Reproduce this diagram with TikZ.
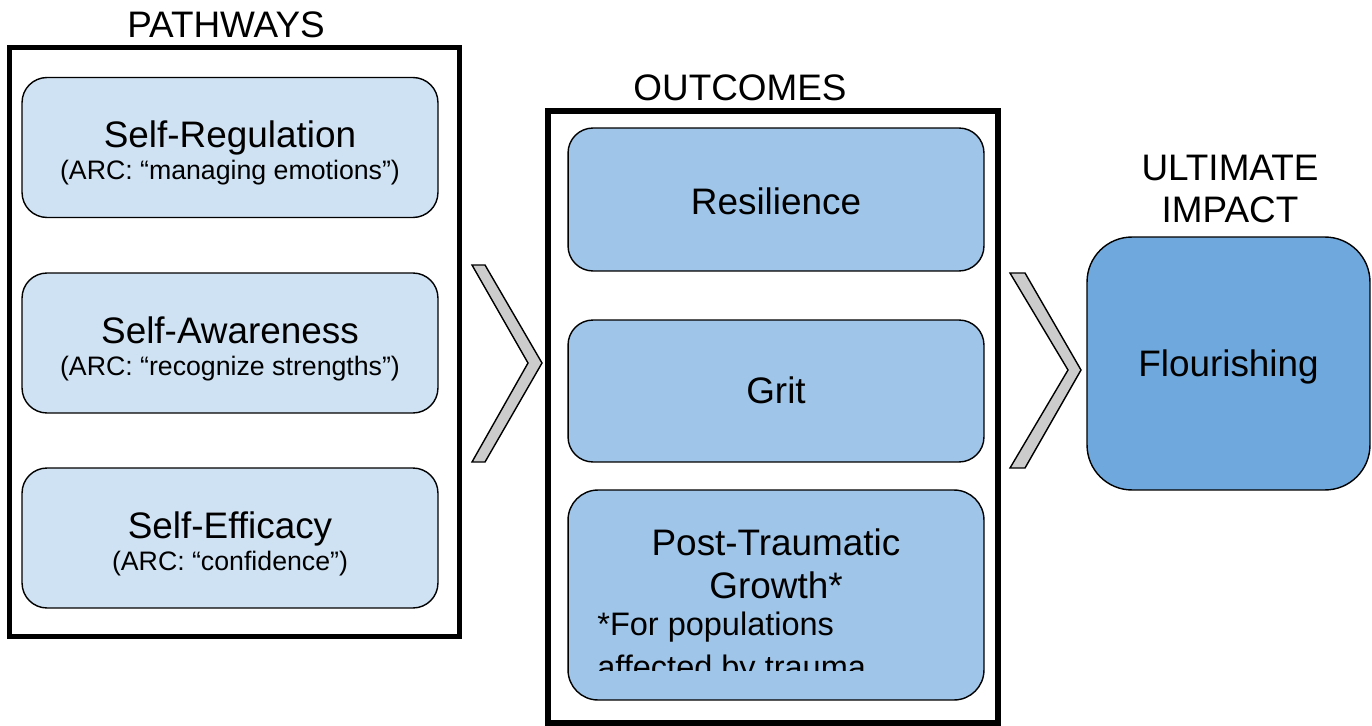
\documentclass[tikz,border=0pt]{standalone}
\usepackage{fontspec}
\setmainfont{Liberation Sans}
\usetikzlibrary{calc}
\definecolor{lightblueiii}{HTML}{CFE2F3}
\definecolor{lightblueii}{HTML}{9FC5E8}
\definecolor{lightbluei}{HTML}{6FA8DC}
\definecolor{chevgray}{HTML}{CCCCCC}

\begin{document}
\begin{tikzpicture}[x=0.02cm,y=-0.02cm,
    outerbox/.style={line width=3.2pt},
    roundbox/.style={draw, line width=0.8pt, inner sep=0pt, minimum width=8.32cm},
    big/.style={font=\fontsize{21}{24}\selectfont, inner sep=0pt, anchor=base},
    small/.style={font=\fontsize{15.2}{18}\selectfont, inner sep=0pt, anchor=base},
    note/.style={font=\fontsize{18.5}{22}\selectfont, inner sep=0pt, anchor=base west},
    chev/.style={draw, line width=0.8pt, fill=chevgray}]
  \useasboundingbox (0,0) rectangle (1372,726);

  % pathways
  \draw[outerbox] (9.5,47.5) rectangle (459.5,636.5);
  \node[big] (pathways) at (226,38) {PATHWAYS};
  \foreach \yc/\nm/\ttl/\sub in {147.5/selfreg/Self-Regulation/managing emotions,
                                 343/selfaware/Self-Awareness/recognize strengths,
                                 538/selfeff/Self-Efficacy/confidence}{
    \node[roundbox, fill=lightblueiii, rounded corners=0.5cm, minimum height=2.8cm] (\nm) at (230,\yc) {};
    \node[big] (\nm-t) at (\nm.center) {\ttl};
    \node[small] (\nm-s) at ($(\nm.center)+(0,32)$) {(ARC: “\sub”)};
  }

  \draw[chev] (472,265) -- (485,265) -- (542,363) -- (485,462) -- (472,462) -- (528,363) -- cycle;

  % outcomes
  \draw[outerbox] (548,111) rectangle (998,723);
  \node[big] (outcomes) at (740,101) {OUTCOMES};
  \node[roundbox, fill=lightblueii, rounded corners=0.5cm, minimum height=2.86cm] (resil) at (776,199.5) {};
  \node[big] (resil-t) at ($(resil.center)+(0,15)$) {Resilience};
  \node[roundbox, fill=lightblueii, rounded corners=0.5cm, minimum height=2.84cm] (grit) at (776,391) {};
  \node[big] (grit-t) at ($(grit.center)+(0,12)$) {Grit};
  \node[roundbox, fill=lightblueii, rounded corners=0.6cm, minimum height=4.2cm] (ptg) at (776,595) {};
  \node[big] (ptg-t1) at (776,555) {Post-Traumatic};
  \node[big] (ptg-t2) at (776,598) {Growth*};
  \begin{scope}
    \clip (568,490) rectangle (984,670);
    \node[note] (ptg-n1) at (597,635) {*For populations};
    \node[note] (ptg-n2) at (597,678) {affected by trauma};
  \end{scope}

  \draw[chev] (1010,273) -- (1025,273) -- (1081,370) -- (1025,468) -- (1010,468) -- (1068,370) -- cycle;

  % ultimate impact
  \node[big] (ultimate) at (1230,181) {ULTIMATE};
  \node[big] (impact) at (1230,223) {IMPACT};
  \node[roundbox, fill=lightbluei, rounded corners=0.9cm, minimum width=5.66cm, minimum height=5.06cm] (flourish) at (1228.5,363.5) {};
  \node[big] (flourish-t) at ($(flourish.center)+(0,13)$) {Flourishing};
\end{tikzpicture}
\end{document}
